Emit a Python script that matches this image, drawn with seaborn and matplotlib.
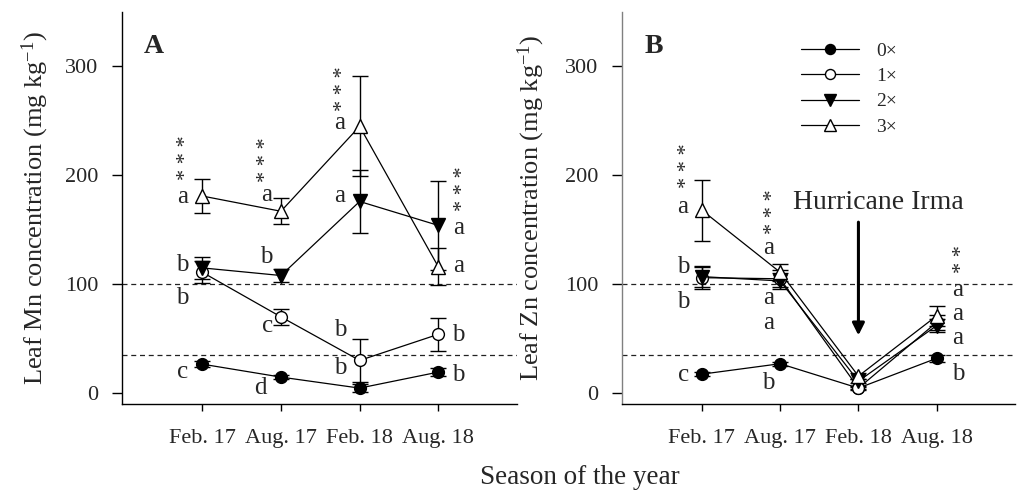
import matplotlib
matplotlib.use("Agg")
import matplotlib.pyplot as plt
import seaborn as sns
import numpy as np

# ---------------- data ----------------
seasons = ["Feb. 17", "Aug. 17", "Feb. 18", "Aug. 18"]
rates = ["0\u00d7", "1\u00d7", "2\u00d7", "3\u00d7"]

mn_0x = [26.6, 14.7, 4.6, 19.3]
mn_1x = [111, 70, 30, 54]
mn_2x = [115, 108, 176, 154]
mn_3x = [181, 167, 245, 116]
mn_0x_err = [3, 2, 4, 4]
mn_1x_err = [10, 7, 20, 15]
mn_2x_err = [10, 6, 29, 41]
mn_3x_err = [16, 12, 46, 17]

zn_0x = [17.4, 27, 4.6, 32]
zn_1x = [106, 105, 4.6, 65]
zn_2x = [107, 103, 11, 62]
zn_3x = [168, 111, 15.6, 71]
zn_0x_err = [2, 2, 1, 3]
zn_1x_err = [10, 8, 2, 7]
zn_2x_err = [10, 7, 2, 6]
zn_3x_err = [28, 8, 3, 9]

ref_lines = [100, 35]

# letters (x position, y, text)
mn_letters = [
    (-0.25, 180, "a"), (-0.25, 118, "b"), (-0.25, 87, "b"), (-0.25, 19, "c"),
    (0.82, 182, "a"), (0.82, 125, "b"), (0.83, 62, "c"), (0.74, 5, "d"),
    (1.75, 248, "a"), (1.75, 181, "a"), (1.75, 58, "b"), (1.75, 23, "b"),
    (3.26, 152, "a"), (3.26, 116.5, "a"), (3.26, 53, "b"), (3.26, 16.5, "b"),
]
mn_stars = [(-0.26, 216, 3), (0.76, 214, 3), (1.73, 280, 3), (3.26, 188, 3)]

zn_letters = [
    (-0.24, 171, "a"), (-0.24, 116, "b"), (-0.24, 83.5, "b"), (-0.24, 16.5, "c"),
    (0.85, 133, "a"), (0.85, 87, "a"), (0.85, 64, "a"), (0.85, 9, "b"),
    (3.27, 94.5, "a"), (3.27, 73, "a"), (3.27, 50.5, "a"), (3.27, 18, "b"),
]
zn_stars = [(-0.24, 209, 3), (0.85, 167, 3), (3.27, 123, 2)]

# ---------------- style ----------------
sns.set_theme(style="ticks")
plt.rcParams["font.family"] = ["Liberation Serif", "DejaVu Serif"]
plt.rcParams["mathtext.fontset"] = "custom"
plt.rcParams["mathtext.rm"] = "Liberation Serif"
plt.rcParams["mathtext.default"] = "regular"

styles = [
    dict(marker="o", mfc="black", ms=8.5),
    dict(marker="o", mfc="white", ms=8.5),
    dict(marker="v", mfc="black", ms=9.5),
    dict(marker="^", mfc="white", ms=9.5),
]

fig = plt.figure(figsize=(10.22, 4.95), dpi=100)
axA = fig.add_axes([122 / 1022, 91 / 495, 395 / 1022, 392 / 495])
axB = fig.add_axes([622 / 1022, 91 / 495, 393 / 1022, 392 / 495])

x = np.arange(len(seasons))

STAR_FS = 16
LETTER_FS = 18


def draw(ax, series, errs, letters, stars, ylabel, panel, label_legend=False):
    for y in ref_lines:
        ax.axhline(y, color="#222222", lw=0.9, ls=(0, (4, 3)), zorder=1)
    for i, (vals, err, st) in enumerate(zip(series, errs, styles)):
        ax.errorbar(x, vals, yerr=err, fmt="none", ecolor="black",
                    elinewidth=1.0, capsize=6, capthick=1.0, zorder=2)
        sns.lineplot(x=x, y=vals, ax=ax, color="black", lw=0.9,
                     marker=st["marker"], markersize=st["ms"],
                     markerfacecolor=st["mfc"], markeredgecolor="black",
                     markeredgewidth=1.0, zorder=3 + i,
                     label=rates[i] if label_legend else None,
                     legend=label_legend)
    for (xo, yv, t) in letters:
        ax.text(xo, yv, t, fontsize=LETTER_FS, ha="center", va="center")
    for (xo, yv, n) in stars:
        ax.annotate(" ".join(["*"] * n), xy=(xo, yv), xytext=(3.5, 0),
                    textcoords="offset points", fontsize=STAR_FS,
                    rotation=90, ha="center", va="center")
    ax.set_xlim(-1.02, 4.0)
    ax.set_ylim(-10, 350)
    ax.set_xticks(x)
    ax.set_xticklabels(seasons, fontsize=16)
    ax.set_yticks([0, 100, 200, 300])
    ax.tick_params(axis="y", labelsize=16, length=7, width=1, pad=10,
                   direction="out", color="black")
    ax.tick_params(axis="x", length=5, width=1, pad=13, direction="out",
                   color="black")
    ax.set_xlabel("")
    ax.set_ylabel(ylabel, fontsize=19)
    for s in ["top", "right"]:
        ax.spines[s].set_visible(False)
    for s in ["left", "bottom"]:
        ax.spines[s].set_linewidth(1.0)
        ax.spines[s].set_color("black")
    ax.text(0.081, 0.913, panel, transform=ax.transAxes, fontsize=20,
            fontweight="bold", ha="center", va="center")


draw(axA, [mn_0x, mn_1x, mn_2x, mn_3x],
     [mn_0x_err, mn_1x_err, mn_2x_err, mn_3x_err],
     mn_letters, mn_stars,
     "Leaf Mn concentration (mg kg$^{-1}$)", "A")
draw(axB, [zn_0x, zn_1x, zn_2x, zn_3x],
     [zn_0x_err, zn_1x_err, zn_2x_err, zn_3x_err],
     zn_letters, zn_stars,
     "Leaf Zn concentration (mg kg$^{-1}$)", "B", label_legend=True)

axA.yaxis.set_label_coords(-0.18, 0.5)
axB.yaxis.set_label_coords(-0.192, 0.5)
axB.spines["left"].set_color("#808080")

axB.text(2.25, 175, "Hurricane Irma", fontsize=20, ha="center", va="center")
axB.annotate("", xy=(2.0, 53), xytext=(2.0, 157),
             arrowprops=dict(arrowstyle="-|>", lw=2.2, color="black",
                             mutation_scale=18, shrinkA=0, shrinkB=0))

axB.legend(loc="upper left", bbox_to_anchor=(0.43, 0.948), frameon=False,
           fontsize=14, handlelength=3.0, handletextpad=0.87,
           labelspacing=0.4, borderpad=0, markerscale=0.85)

fig.text(579.5 / 1022, 17 / 495, "Season of the year", fontsize=19.5,
         ha="center", va="center")

fig.savefig("out.png", dpi=100)
